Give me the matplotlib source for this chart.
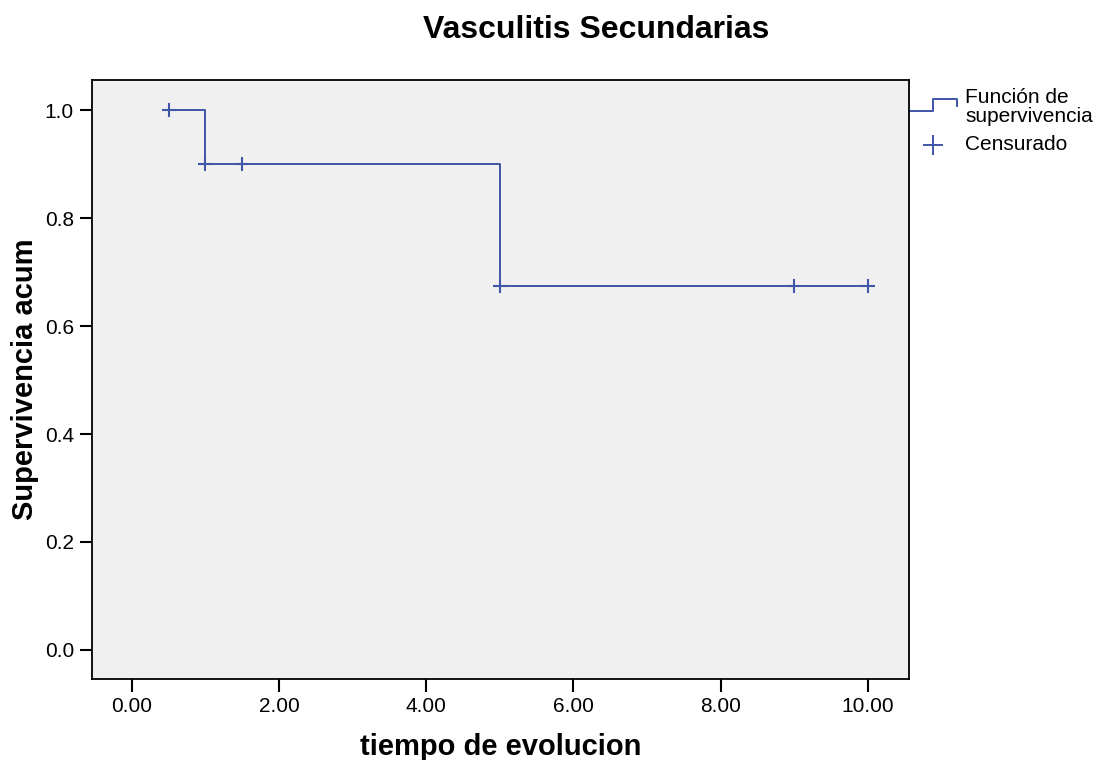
import matplotlib.pyplot as plt
import numpy as np

plt.rcParams["font.family"] = ["Liberation Sans", "DejaVu Sans"]

# Kaplan-Meier estimate (step) and censored observations
step_time = [0.5, 1.0, 5.0, 10.0]
step_surv = [1.0, 0.9, 0.675, 0.675]
cens_time = [0.5, 1.0, 1.5, 5.0, 9.0, 10.0]
cens_surv = [1.0, 0.9, 0.9, 0.675, 0.675, 0.675]

x_ticks = [0, 2, 4, 6, 8, 10]
y_ticks = [0.0, 0.2, 0.4, 0.6, 0.8, 1.0]

LINE_COLOR = "#3f55a6"

fig = plt.figure(figsize=(10.98, 7.60), dpi=100)
ax = fig.add_axes([92 / 1098, 1 - 679 / 760, 817 / 1098, 599 / 760])
ax.set_facecolor("#f0f0f0")

ax.plot(step_time, step_surv, drawstyle="steps-post", color=LINE_COLOR, lw=1.4)
ax.plot(cens_time, cens_surv, "+", color=LINE_COLOR, ms=9.5, mew=1.5)

ax.set_xlim(-0.54, 10.56)
ax.set_ylim(-0.054, 1.056)
ax.set_xticks(x_ticks)
ax.set_xticklabels([f"{t:.2f}" for t in x_ticks])
ax.set_yticks(y_ticks)
ax.set_yticklabels([f"{t:.1f}" for t in y_ticks])
ax.tick_params(axis="both", direction="out", length=9, width=1.5, labelsize=15, pad=4)

for sp in ax.spines.values():
    sp.set_linewidth(1.3)

fig.text(596 / 1098, 1 - 30 / 760, "Vasculitis Secundarias", fontsize=23,
         fontweight="bold", ha="center", va="center")
ax.set_xlabel("tiempo de evolucion", fontsize=21, fontweight="bold", labelpad=12)
ax.set_ylabel("Supervivencia acum", fontsize=21, fontweight="bold", labelpad=4)

# legend drawn outside the right spine
W, H = 817, 599
def ax_x(px):
    return (px - 909) / W + 1.0
def ax_y(py):
    return (679 - py) / H

ax.plot([ax_x(909), ax_x(933), ax_x(933), ax_x(957), ax_x(957)],
        [ax_y(111), ax_y(111), ax_y(99), ax_y(99), ax_y(106)],
        color=LINE_COLOR, lw=1.4, transform=ax.transAxes, clip_on=False)
ax.plot([ax_x(933)], [ax_y(145)], "+", color=LINE_COLOR, ms=15, mew=1.4,
        transform=ax.transAxes, clip_on=False)
ax.text(ax_x(965), ax_y(107), "Función de\nsupervivencia", fontsize=15,
        va="center", ha="left", linespacing=0.95, transform=ax.transAxes)
ax.text(ax_x(965), ax_y(145), "Censurado", fontsize=15,
        va="center", ha="left", transform=ax.transAxes)

fig.savefig("out.png", dpi=100)
